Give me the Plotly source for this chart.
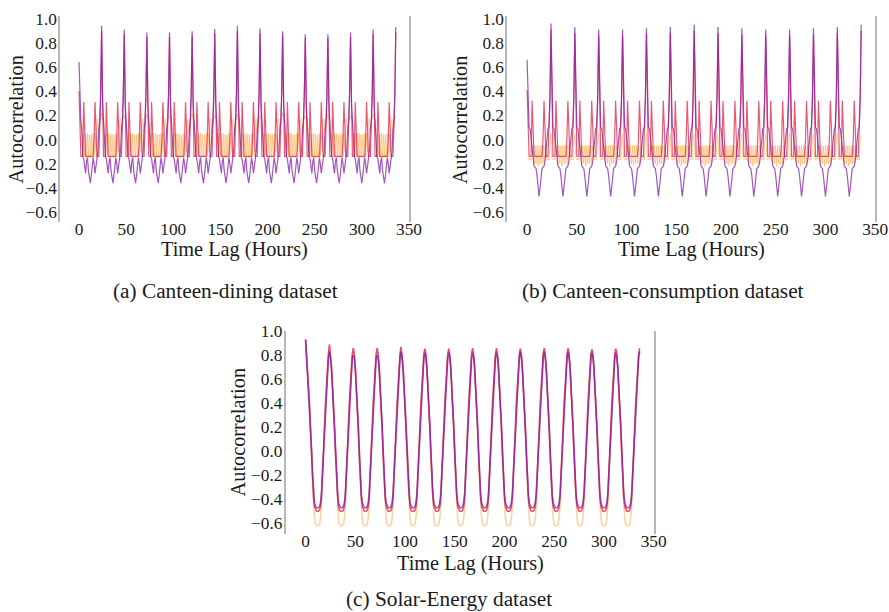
import plotly.graph_objects as go

W, H = 889, 612
FONT = "Liberation Serif, Times New Roman, serif"

# ---------------- data ----------------
LAG_STEP_HOURS = 24
N_DAYS = 14  # lags 0 .. 336

# values at lags 0, 24, 48, ..., 336
dining_purple_peaks = [0.64, 0.94, 0.91, 0.885, 0.885, 0.895, 0.915, 0.94, 0.92, 0.895, 0.87, 0.87, 0.885, 0.91, 0.93]
dining_red_peaks    = [0.40, 0.90, 0.87, 0.85, 0.85, 0.86, 0.88, 0.90, 0.88, 0.86, 0.84, 0.84, 0.85, 0.87, 0.89]
dining_orange_peaks = [0.17, 0.22, 0.20, 0.21, 0.20, 0.22, 0.20, 0.21, 0.20, 0.22, 0.20, 0.21, 0.20, 0.21, 0.20]
# values at hours 1..23 after each daily peak
dining_purple_day = [0.30, 0.15, 0.08, -0.14, -0.16, -0.22, -0.28, -0.18, -0.15, -0.26, -0.32, -0.36,
                     -0.30, -0.22, -0.15, -0.20, -0.28, -0.22, -0.15, -0.10, 0.08, 0.15, 0.40]
dining_red_day    = [0.10, -0.14, -0.14, -0.14, 0.31, 0.00, -0.14, -0.14, -0.14, -0.14, -0.14, -0.14,
                     -0.14, -0.14, -0.14, 0.00, 0.31, 0.10, -0.14, -0.14, -0.14, 0.10, 0.35]
dining_orange_day = [0.17, 0.17, 0.05, -0.14, 0.05, -0.14, 0.05, -0.15, 0.05, -0.15, 0.04, -0.15,
                     0.04, -0.15, 0.05, -0.14, 0.05, -0.10, 0.15, 0.17, 0.05, 0.17, 0.17]

cons_purple_peaks = [0.66, 0.96, 0.93, 0.91, 0.91, 0.92, 0.93, 0.95, 0.93, 0.92, 0.91, 0.91, 0.92, 0.93, 0.95]
cons_red_peaks    = [0.41, 0.91, 0.88, 0.86, 0.86, 0.87, 0.88, 0.90, 0.88, 0.87, 0.86, 0.86, 0.87, 0.88, 0.90]
cons_orange_peaks = [-0.15, 0.05, 0.04, 0.05, 0.04, 0.05, 0.04, 0.05, 0.04, 0.05, 0.04, 0.05, 0.04, 0.05, 0.04]
cons_purple_day = [0.30, 0.10, 0.09, 0.00, -0.10, -0.18, -0.22, -0.23, -0.24, -0.30, -0.40, -0.47,
                   -0.40, -0.30, -0.24, -0.23, -0.22, -0.18, -0.10, 0.00, 0.09, 0.10, 0.35]
cons_red_day    = [0.15, -0.14, -0.14, -0.14, 0.32, 0.00, -0.14, -0.14, -0.14, -0.14, -0.14, -0.14,
                   -0.14, -0.14, -0.14, 0.00, 0.32, 0.10, -0.14, -0.14, -0.14, 0.10, 0.35]
cons_orange_day = [-0.15, -0.17, -0.15, -0.17, -0.15, -0.05, -0.20, -0.05, -0.20, -0.05, -0.22, -0.05,
                   -0.20, -0.05, -0.20, -0.05, -0.20, -0.05, -0.15, -0.17, -0.15, -0.17, 0.00]

solar_purple_peaks = [0.93, 0.83, 0.80, 0.80, 0.83, 0.82, 0.82, 0.82, 0.82, 0.83, 0.83, 0.83, 0.82, 0.82, 0.83]
solar_red_peaks    = [0.93, 0.89, 0.86, 0.86, 0.87, 0.855, 0.855, 0.86, 0.86, 0.855, 0.86, 0.86, 0.85, 0.855, 0.86]
solar_orange_peaks = [0.93, 0.87, 0.85, 0.85, 0.86, 0.85, 0.85, 0.85, 0.85, 0.85, 0.85, 0.85, 0.84, 0.85, 0.85]
solar_purple_day = [0.78, 0.69, 0.56, 0.40, 0.21, 0.01, -0.19, -0.35, -0.43, -0.46, -0.47, -0.47,
                    -0.47, -0.46, -0.43, -0.35, -0.19, 0.01, 0.21, 0.40, 0.56, 0.69, 0.78]
solar_red_day    = [0.81, 0.71, 0.57, 0.40, 0.20, -0.01, -0.22, -0.38, -0.46, -0.49, -0.50, -0.50,
                    -0.50, -0.49, -0.46, -0.38, -0.22, -0.01, 0.20, 0.40, 0.57, 0.71, 0.81]
solar_orange_day = [0.80, 0.69, 0.54, 0.36, 0.15, -0.07, -0.28, -0.45, -0.56, -0.61, -0.62, -0.62,
                    -0.62, -0.61, -0.56, -0.45, -0.28, -0.07, 0.15, 0.36, 0.54, 0.69, 0.80]

x_ticks = [0, 50, 100, 150, 200, 250, 300, 350]
y_ticks = [-0.6, -0.4, -0.2, 0.0, 0.2, 0.4, 0.6, 0.8, 1.0]
y_text_ab = ["\u22120.6", "\u22120.4", "0.2", "0.0", "0.2", "0.4", "0.6", "0.8", "1.0"]
y_text_c = ["\u22120.6", "\u22120.4", "\u22120.2", "0.0", "0.2", "0.4", "0.6", "0.8", "1.0"]

captions = ["(a) Canteen-dining dataset", "(b) Canteen-consumption dataset", "(c) Solar-Energy dataset"]
x_title = "Time Lag (Hours)"
y_title = "Autocorrelation"


def build(peaks, day):
    ys = []
    for d in range(len(peaks) - 1):
        ys.append(peaks[d])
        ys.extend(day)
    ys.append(peaks[-1])
    return ys


lags = list(range(0, N_DAYS * LAG_STEP_HOURS + 1))

COL_ORANGE = "rgba(255,165,70,0.5)"
COL_RED = "rgba(225,35,65,0.75)"
COL_PURPLE = "rgba(130,30,170,0.75)"

panels = [
    ("x", "y", [(dining_orange_peaks, dining_orange_day, COL_ORANGE),
                (dining_red_peaks, dining_red_day, COL_RED),
                (dining_purple_peaks, dining_purple_day, COL_PURPLE)]),
    ("x2", "y2", [(cons_orange_peaks, cons_orange_day, COL_ORANGE),
                  (cons_red_peaks, cons_red_day, COL_RED),
                  (cons_purple_peaks, cons_purple_day, COL_PURPLE)]),
    ("x3", "y3", [(solar_orange_peaks, solar_orange_day, COL_ORANGE),
                  (solar_red_peaks, solar_red_day, COL_RED),
                  (solar_purple_peaks, solar_purple_day, COL_PURPLE)]),
]

fig = go.Figure()
for xa, ya, series in panels:
    for peaks, day, col in series:
        w = 1.6 if xa == "x3" else (1.0 if col == COL_ORANGE else 1.2)
        fig.add_trace(go.Scatter(x=lags, y=build(peaks, day), mode="lines",
                                 line=dict(color=col, width=w),
                                 xaxis=xa, yaxis=ya, showlegend=False, hoverinfo="skip"))


# target pixel positions -> layout positions (compensating the page rendering)
SX, SY, OY = 0.983, 0.989, 6.8


def px_x(p):
    return (p / SX) / W


def px_y(p):
    return 1 - ((p - OY) / SY) / H


tick_font = dict(family=FONT, size=17.3, color="#1a1a1a")


def xaxis(d0, d1, anchor):
    return dict(domain=[px_x(d0), min(1.0, px_x(d1))], range=[-20, 350], anchor=anchor,
                showgrid=False, zeroline=False, showline=False, ticks="",
                ticklabelstandoff=-5,
                tickvals=x_ticks, ticktext=[str(v) for v in x_ticks], tickfont=tick_font)


def yaxis(top, bottom, rng, text, anchor):
    return dict(domain=[px_y(bottom), px_y(top)], range=rng, anchor=anchor,
                showgrid=False, zeroline=False, showline=True, mirror=True,
                linecolor="#b8b8b8", linewidth=1.5, ticks="", ticklabelstandoff=-2,
                tickvals=y_ticks, ticktext=text, tickfont=tick_font)


ann = []
for (x, y, t) in [(15.5, 119, y_title), (459, 119, y_title), (237.5, 432, y_title)]:
    ann.append(dict(x=px_x(x), y=px_y(y), xref="paper", yref="paper", text=t, textangle=-90,
                    showarrow=False, xanchor="center", yanchor="middle",
                    font=dict(family=FONT, size=20.3, color="#1a1a1a")))
for (x, y) in [(234, 249), (690, 249), (469, 563)]:
    ann.append(dict(x=px_x(x), y=px_y(y), xref="paper", yref="paper", text=x_title,
                    showarrow=False, xanchor="center", yanchor="middle",
                    font=dict(family=FONT, size=20.3, color="#1a1a1a")))
for (x, y), t in zip([(224.5, 290), (661, 290), (448, 599)], captions):
    ann.append(dict(x=px_x(x), y=px_y(y), xref="paper", yref="paper", text=t,
                    showarrow=False, xanchor="center", yanchor="middle",
                    font=dict(family=FONT, size=21.3, color="#1a1a1a")))

fig.update_layout(
    width=W, height=H, autosize=False,
    margin=dict(l=0, r=0, t=0, b=0, pad=0),
    paper_bgcolor="white", plot_bgcolor="white",
    xaxis=xaxis(60, 408, "y"),
    yaxis=yaxis(15, 221, [-0.68, 1.02], y_text_ab, "x"),
    xaxis2=xaxis(506, 873, "y2"),
    yaxis2=yaxis(15, 221, [-0.68, 1.02], y_text_ab, "x2"),
    xaxis3=xaxis(285, 652, "y3"),
    yaxis3=yaxis(330, 534, [-0.69, 1.006], y_text_c, "x3"),
    annotations=ann,
)

fig.write_html("out.html")
